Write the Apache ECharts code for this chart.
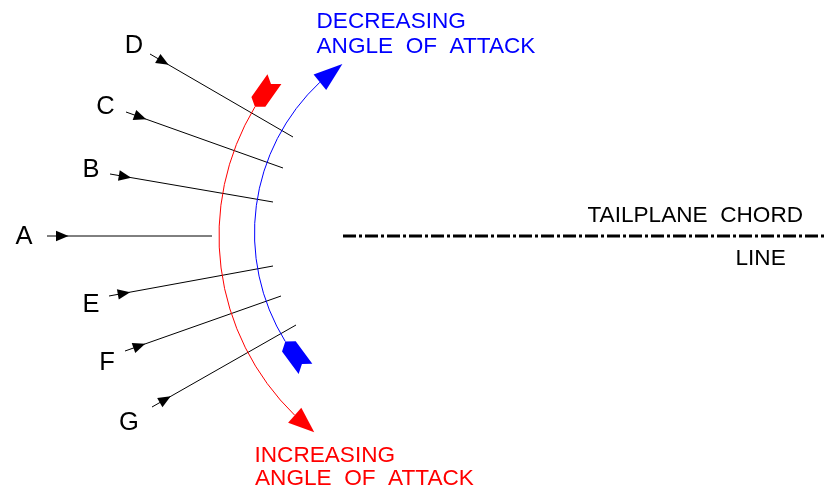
<!DOCTYPE html>
<html><head><meta charset="utf-8">
<script src="https://cdn.jsdelivr.net/npm/echarts@6/dist/echarts.min.js"></script>
<style>html,body{margin:0;padding:0;background:#fff}#chart{width:827px;height:492px}</style>
</head><body><div id="chart"></div>
<script>
// ---- data (diagram units = drawing coordinates) ----
const flowLabels = ['A', 'B', 'C', 'D', 'E', 'F', 'G'];
const flowStartX = [47, 110, 126, 150, 109, 125, 152];
const flowStartY = [236, 174, 112, 54, 296, 351, 407];
const flowEndX = [212, 273, 283, 293, 273, 281, 296];
const flowEndY = [236, 202, 168, 137, 266, 296, 325];

const arcLabels = ['INCREASING', 'DECREASING'];
const arcCaption = 'ANGLE  OF  ATTACK';
const arcCenterX = [469, 461];
const arcCenterY = [236, 233];
const arcRadius = [250, 206.5];
const arcTailDeg = [211.1, 148.3];
const arcHeadDeg = [134.2, 226.9];

const chordLabels = ['TAILPLANE  CHORD', 'LINE'];
const chordX = [343, 827];
const chordY = [236, 236];

// ---- layout & style ----
const FONT = '"Liberation Sans", Arial, sans-serif';
const LAYOUT = {
  flowLabelPos: [[24, 237], [91, 169.5], [105.5, 107], [134, 46], [91, 305], [107, 362.5], [129, 422.5]],
  arcTextPos: [[[254.5, 455.5], [255, 479]], [[316.5, 21.5], [316.5, 47]]],
  chordTextPos: [[587.5, 215.5], [735.5, 259]]
};
const ARC_COLORS = ['#ff0000', '#0000ff'];
const HEAD_LEN = [26, 29];
const TEXT_SIZE = 22.6;
const LABEL_SIZE = 25.5;

function txt(x, y, text, color, size, align) {
  return {
    type: 'text', x: x, y: y,
    style: {
      text: text, fill: color, font: size + 'px ' + FONT,
      align: align, verticalAlign: 'middle',
      textAlign: align, textVerticalAlign: 'middle'
    }
  };
}

const chart = echarts.init(document.getElementById('chart'), null, { renderer: 'canvas' });
chart.setOption({
  animation: false,
  backgroundColor: '#ffffff',
  grid: { left: 0, right: 0, top: 0, bottom: 0, containLabel: false },
  xAxis: { type: 'value', min: 0, max: 827, show: false },
  yAxis: { type: 'value', min: 0, max: 492, inverse: true, show: false },
  series: [
    {
      type: 'custom', name: 'flow', clip: false,
      encode: { x: [0, 2], y: [1, 3] },
      data: flowLabels.map((l, i) => [flowStartX[i], flowStartY[i], flowEndX[i], flowEndY[i]]),
      renderItem: function (params, api) {
        const i = params.dataIndex;
        const p1 = api.coord([api.value(0), api.value(1)]);
        const p2 = api.coord([api.value(2), api.value(3)]);
        const dx = p2[0] - p1[0], dy = p2[1] - p1[1], len = Math.hypot(dx, dy);
        const ux = dx / len, uy = dy / len, nx = -uy, ny = ux;
        const tipD = 21.5, hl = 12.5, hw = 5.3;
        const tip = [p1[0] + ux * tipD, p1[1] + uy * tipD];
        const bx = p1[0] + ux * (tipD - hl), by = p1[1] + uy * (tipD - hl);
        const lp = api.coord(LAYOUT.flowLabelPos[i]);
        return {
          type: 'group', children: [
            { type: 'line', shape: { x1: p1[0], y1: p1[1], x2: p2[0], y2: p2[1] }, style: { stroke: '#000', lineWidth: 1 } },
            { type: 'polygon', shape: { points: [tip, [bx + nx * hw, by + ny * hw], [bx - nx * hw, by - ny * hw]] }, style: { fill: '#000' } },
            txt(lp[0], lp[1], flowLabels[i], '#000', LABEL_SIZE, 'center')
          ]
        };
      }
    },
    {
      type: 'custom', name: 'arcs', clip: false,
      encode: { x: 0, y: 1 },
      data: arcLabels.map((l, i) => [arcCenterX[i], arcCenterY[i], arcRadius[i], arcTailDeg[i], arcHeadDeg[i]]),
      renderItem: function (params, api) {
        const i = params.dataIndex;
        const c = api.coord([api.value(0), api.value(1)]);
        const r = api.size([api.value(2), 0])[0];
        const tail = api.value(3), head = api.value(4);
        const s = head > tail ? 1 : -1;
        const col = ARC_COLORS[i];
        const rad = Math.PI / 180;
        const pt = d => [c[0] + r * Math.cos(d * rad), c[1] + r * Math.sin(d * rad)];
        // arrow head along chord
        const hw = 10;
        const base = pt(head), tip = pt(head + s * HEAD_LEN[i] / r / rad);
        let ux = tip[0] - base[0], uy = tip[1] - base[1];
        let L = Math.hypot(ux, uy); ux /= L; uy /= L;
        const headPts = [tip, [base[0] - uy * hw, base[1] + ux * hw], [base[0] + uy * hw, base[1] - ux * hw]];
        // fletching (tail)
        const fl = 34, fhw = 8.5, fch = 6, fn = 6;
        const front = pt(tail), rear = pt(tail - s * fl / r / rad);
        let fx = rear[0] - front[0], fy = rear[1] - front[1];
        const FL = Math.hypot(fx, fy); fx /= FL; fy /= FL;
        const gx = -fy, gy = fx;
        const p = (u, v) => [front[0] + fx * u + gx * v, front[1] + fy * u + gy * v];
        const fletch = [p(0, 0), p(fch, fhw), p(fl, fhw), p(fl - fn, 0), p(fl, -fhw), p(fch, -fhw)];
        const tp = LAYOUT.arcTextPos[i];
        const t1 = api.coord(tp[0]), t2 = api.coord(tp[1]);
        return {
          type: 'group', children: [
            {
              type: 'arc',
              shape: { cx: c[0], cy: c[1], r: r, startAngle: Math.min(tail, head) * rad, endAngle: Math.max(tail, head) * rad, clockwise: true },
              style: { stroke: col, lineWidth: 1, fill: 'none' }
            },
            { type: 'polygon', shape: { points: headPts }, style: { fill: col } },
            { type: 'polygon', shape: { points: fletch }, style: { fill: col } },
            txt(t1[0], t1[1], arcLabels[i], col, TEXT_SIZE, 'left'),
            txt(t2[0], t2[1], arcCaption, col, TEXT_SIZE, 'left')
          ]
        };
      }
    },
    {
      type: 'line', name: 'chord', symbol: 'none', silent: true,
      data: chordX.map((x, i) => [x, chordY[i]]),
      lineStyle: { color: '#000', width: 3, type: [13, 3, 3, 3] }
    },
    {
      type: 'custom', name: 'chordText', clip: false,
      encode: { x: 0, y: 1 },
      data: chordLabels.map((l, i) => LAYOUT.chordTextPos[i]),
      renderItem: function (params, api) {
        const q = api.coord([api.value(0), api.value(1)]);
        return txt(q[0], q[1], chordLabels[params.dataIndex], '#000', TEXT_SIZE, 'left');
      }
    }
  ]
});
</script>
</body></html>
